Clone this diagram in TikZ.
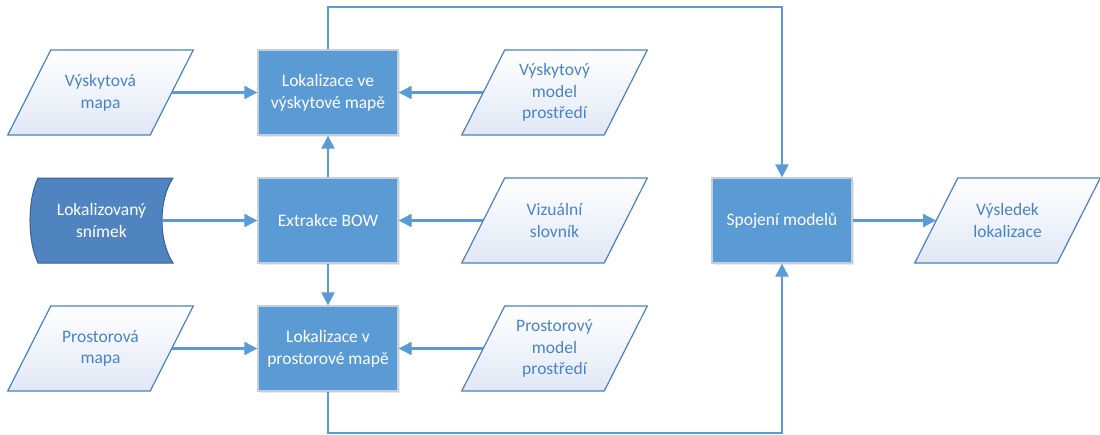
\documentclass[tikz,border=0pt]{standalone}
\usepackage{fontspec}
\setmainfont{Carlito}
\usetikzlibrary{arrows.meta,shadows}

\definecolor{procfill}{RGB}{91,155,213}
\definecolor{procline}{RGB}{196,206,220}
\definecolor{conn}{RGB}{91,155,213}
\definecolor{dataline}{RGB}{76,128,192}
\definecolor{datatext}{RGB}{74,132,198}
\definecolor{datashade}{RGB}{224,232,245}
\definecolor{storefill}{RGB}{80,132,192}
\definecolor{storeline}{RGB}{56,98,148}

% parallelogram for data: name, centre x, centre y, text
\newcommand\dataslab[4]{%
  \path[draw=dataline, line width=1.2pt, top color=white, bottom color=datashade]
    ({#2-71.25+21.5},{#3-42.5}) -- ({#2+71.25+21.5},{#3-42.5})
    -- ({#2+71.25-21.5},{#3+42.5}) -- ({#2-71.25-21.5},{#3+42.5}) -- cycle;
  \node[datanode] (#1) at (#2,#3) {#4};}

\begin{document}
\begin{tikzpicture}[x=1pt,y=-1pt,
  every node/.style={font=\fontsize{17.5}{21.7}\selectfont, align=center},
  procbox/.style={draw=procline, line width=1.2pt, fill=procfill, text=white,
    minimum width=140pt, minimum height=85pt, inner sep=0pt,
    drop shadow={opacity=0.18, shadow xshift=1.5pt, shadow yshift=-2pt}},
  datanode/.style={minimum width=142.5pt, minimum height=85pt, inner sep=0pt, text=datatext},
  storenode/.style={minimum width=121pt, minimum height=85pt, inner sep=0pt, text=white},
  arr/.style={draw=conn, line width=2.1pt, -{Triangle[length=13pt,width=13pt]}},
]
\useasboundingbox (0,0) rectangle (1100,434);

% process boxes
\node[procbox] (vyskyt) at (328,92.5) {Lokalizace ve\\výskytové mapě};
\node[procbox] (bow) at (328,220.5) {Extrakce BOW};
\node[procbox] (prostor) at (328,348.5) {Lokalizace v\\prostorové mapě};
\node[procbox] (spojeni) at (782,220.5) {Spojení modelů};

% input / output data
\dataslab{vmapa}{100.5}{92.5}{Výskytová\\mapa}
\dataslab{vmodel}{554.5}{92.5}{Výskytový\\model\\prostředí}
\dataslab{slovnik}{554.5}{220.5}{Vizuální\\slovník}
\dataslab{pmapa}{100.5}{348.5}{Prostorová\\mapa}
\dataslab{pmodel}{554.5}{348.5}{Prostorový\\model\\prostředí}
\dataslab{vysledek}{1007.5}{220.5}{Výsledek\\lokalizace}

% stored data: the input image
\path[draw=storeline, line width=1pt, fill=storefill]
  (38,178) -- (173,178) .. controls (158.3,200) and (158.3,241) .. (173,263)
  -- (38,263) .. controls (27.3,241) and (27.3,200) .. (38,178) -- cycle;
\node[storenode] (snimek) at (101.5,220.5) {Lokalizovaný\\snímek};

% connectors
\draw[arr] (vmapa.east) -- (vyskyt.west);
\draw[arr] (vmodel.west) -- (vyskyt.east);
\draw[arr] (snimek.east) -- (bow.west);
\draw[arr] (slovnik.west) -- (bow.east);
\draw[arr] (pmapa.east) -- (prostor.west);
\draw[arr] (pmodel.west) -- (prostor.east);
\draw[arr] (bow.north) -- (vyskyt.south);
\draw[arr] (bow.south) -- (prostor.north);
\draw[arr] (vyskyt.north) -- ++(0,-42.5) -| (spojeni.north);
\draw[arr] (prostor.south) -- ++(0,41.5) -| (spojeni.south);
\draw[arr] (spojeni.east) -- (vysledek.west);
\end{tikzpicture}
\end{document}
